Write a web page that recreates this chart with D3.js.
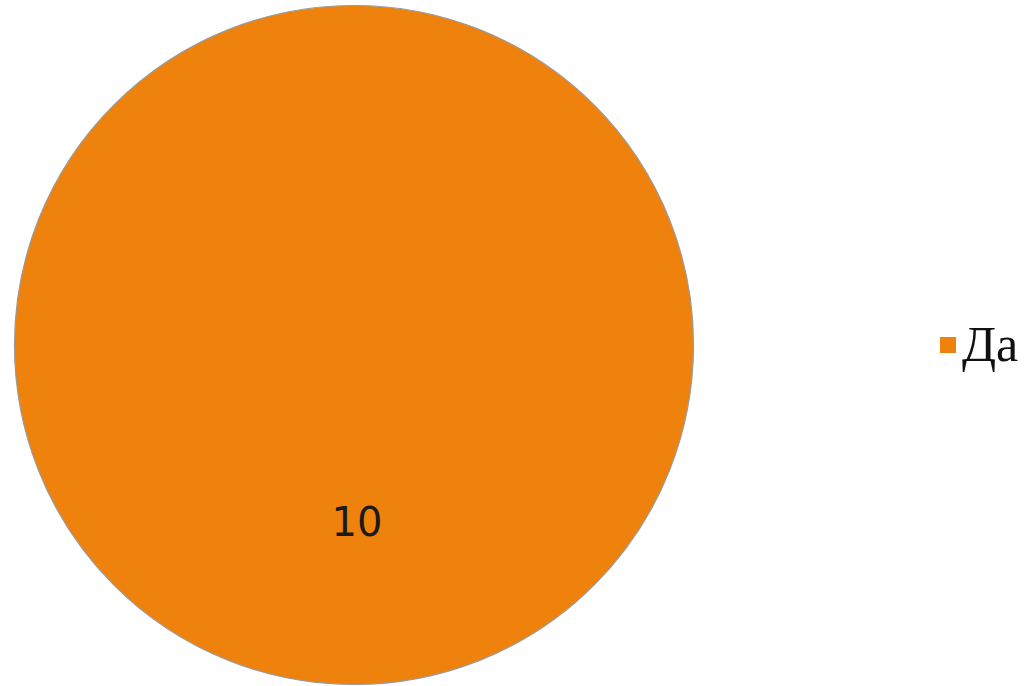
<!DOCTYPE html>
<html>
<head>
<meta charset="utf-8">
<script src="https://cdn.jsdelivr.net/npm/d3@7"></script>
<style>
  html, body { margin: 0; padding: 0; background: #fff; }
  svg { display: block; }
</style>
</head>
<body>
<svg id="chart" width="1029" height="686"></svg>
<script>
// data
const categories = ["Да"];
const values = [10];
const colors = ["#ef820c"];

const width = 1029, height = 686;
const svg = d3.select("#chart");

const cx = 354, cy = 345, radius = 339.5;

const pie = d3.pie().sort(null).value((d) => d.value);
const arcs = pie(categories.map((c, i) => ({ name: c, value: values[i] })));
const arc = d3.arc().innerRadius(0).outerRadius(radius);
const color = d3.scaleOrdinal().domain(categories).range(colors);

const g = svg.append("g").attr("transform", `translate(${cx},${cy})`);

g.selectAll(".slice")
  .data(arcs)
  .enter()
  .append("path")
  .attr("class", "slice")
  .attr("d", arc)
  .attr("fill", (d) => color(d.data.name))
  .attr("stroke", "#9a9a9a")
  .attr("stroke-width", 1.2);

// value labels (a full circle puts the label below the centre, like the source)
const labelArc = d3.arc().innerRadius(radius * 0.52).outerRadius(radius * 0.52);
g.selectAll(".label")
  .data(arcs)
  .enter()
  .append("text")
  .attr("class", "label")
  .attr("transform", (d) => {
    const [x, y] = labelArc.centroid(d);
    // for a single full slice the centroid lands at the bottom
    return arcs.length === 1 ? `translate(3,${radius * 0.52})` : `translate(${x},${y})`;
  })
  .attr("text-anchor", "middle")
  .attr("dy", "0.36em")
  .style("font-family", "'DejaVu Sans', Verdana, sans-serif")
  .style("font-size", "40px")
  .style("fill", "#1a1a1a")
  .text((d) => d.data.value);

// legend
const legend = svg.append("g").attr("transform", "translate(940,345)");
const items = legend.selectAll(".item")
  .data(categories)
  .enter()
  .append("g")
  .attr("class", "item")
  .attr("transform", (d, i) => `translate(0,${i * 56})`);

items.append("rect")
  .attr("x", 0)
  .attr("y", -8)
  .attr("width", 16)
  .attr("height", 16)
  .attr("fill", (d) => color(d));

items.append("text")
  .attr("x", 22)
  .attr("y", 16)
  .style("font-family", "'Liberation Serif', 'Times New Roman', serif")
  .style("font-size", "50px")
  .style("fill", "#111")
  .text((d) => d);
</script>
</body>
</html>
